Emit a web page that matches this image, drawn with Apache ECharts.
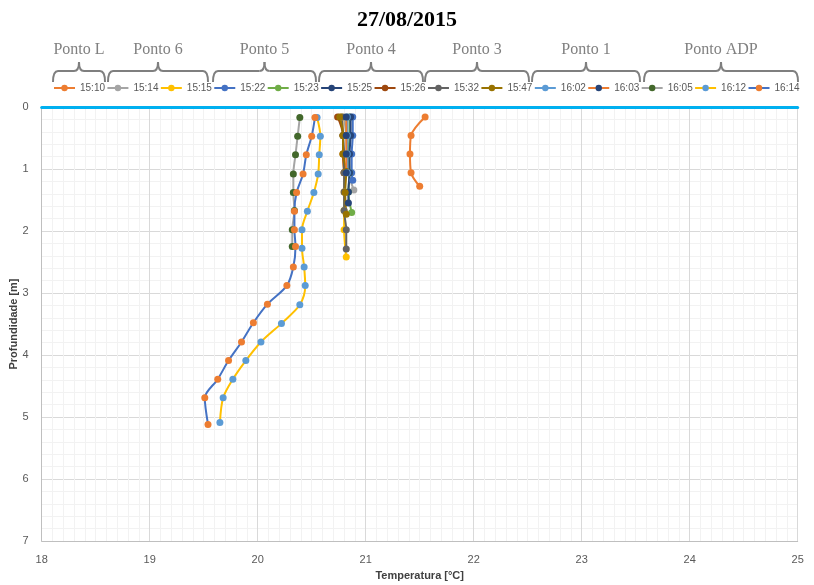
<!DOCTYPE html>
<html>
<head>
<meta charset="utf-8">
<script src="https://cdn.jsdelivr.net/npm/echarts@6/dist/echarts.min.js"></script>
<style>
html,body{margin:0;padding:0;background:#fff;}
#chart{width:814px;height:585px;}
</style>
</head>
<body>
<div id="chart"></div>
<script>
// ---- data ----
const chartTitle = '27/08/2015';
const xAxisTitle = 'Temperatura [°C]';
const yAxisTitle = 'Profundidade [m]';
const groupNames = ['Ponto L', 'Ponto 6', 'Ponto 5', 'Ponto 4', 'Ponto 3', 'Ponto 1', 'Ponto ADP'];
const seriesNames = ['15:10', '15:14', '15:15', '15:22', '15:23', '15:25', '15:26', '15:32', '15:47', '16:02', '16:03', '16:05', '16:12', '16:14'];

const temp1510 = [21.55, 21.42, 21.41, 21.42, 21.50];
const depth1510 = [0.16, 0.46, 0.76, 1.06, 1.28];
const temp1514 = [20.80, 20.82, 20.83, 20.84, 20.89];
const depth1514 = [0.16, 0.46, 0.76, 1.06, 1.34];
const temp1515 = [20.78, 20.79, 20.79, 20.80, 20.80, 20.80, 20.80, 20.82];
const depth1515 = [0.16, 0.46, 0.76, 1.06, 1.37, 1.67, 1.98, 2.42];
const temp1522 = [20.88, 20.88, 20.87, 20.87, 20.88];
const depth1522 = [0.16, 0.46, 0.76, 1.06, 1.18];
const temp1523 = [20.85, 20.85, 20.84, 20.85, 20.84, 20.87];
const depth1523 = [0.16, 0.46, 0.76, 1.06, 1.37, 1.70];
const temp1525 = [20.86, 20.86, 20.85, 20.85, 20.84, 20.84];
const depth1525 = [0.16, 0.46, 0.76, 1.06, 1.37, 1.55];
const temp1526 = [20.74, 20.79, 20.79, 20.80];
const depth1526 = [0.16, 0.46, 0.76, 1.06];
const temp1532 = [20.78, 20.79, 20.80, 20.80, 20.80, 20.80, 20.82, 20.82];
const depth1532 = [0.16, 0.46, 0.76, 1.06, 1.37, 1.67, 1.98, 2.29];
const temp1547 = [20.76, 20.79, 20.79, 20.82, 20.81, 20.82];
const depth1547 = [0.16, 0.46, 0.76, 1.04, 1.38, 1.73];
const temp1602 = [20.83, 20.83, 20.83, 20.83];
const depth1602 = [0.16, 0.46, 0.76, 1.06];
const temp1603 = [20.82, 20.82, 20.82, 20.82];
const depth1603 = [0.16, 0.46, 0.76, 1.06];
const temp1605 = [20.39, 20.37, 20.35, 20.33, 20.33, 20.34, 20.32, 20.32];
const depth1605 = [0.17, 0.47, 0.77, 1.08, 1.38, 1.67, 1.98, 2.25];
const temp1612 = [20.55, 20.58, 20.57, 20.56, 20.52, 20.46, 20.41, 20.41, 20.43, 20.44, 20.39, 20.22, 20.03, 19.89, 19.77, 19.68, 19.65];
const depth1612 = [0.17, 0.47, 0.77, 1.08, 1.38, 1.68, 1.98, 2.28, 2.58, 2.88, 3.19, 3.49, 3.79, 4.09, 4.39, 4.69, 5.09];
const temp1614 = [20.53, 20.50, 20.45, 20.42, 20.36, 20.34, 20.34, 20.35, 20.33, 20.27, 20.09, 19.96, 19.85, 19.73, 19.63, 19.51, 19.54];
const depth1614 = [0.17, 0.47, 0.77, 1.08, 1.38, 1.68, 1.98, 2.25, 2.58, 2.88, 3.18, 3.48, 3.79, 4.09, 4.39, 4.69, 5.12];

const temps = [temp1510, temp1514, temp1515, temp1522, temp1523, temp1525, temp1526, temp1532, temp1547, temp1602, temp1603, temp1605, temp1612, temp1614];
const depths = [depth1510, depth1514, depth1515, depth1522, depth1523, depth1525, depth1526, depth1532, depth1547, depth1602, depth1603, depth1605, depth1612, depth1614];

const xTicks = [18, 19, 20, 21, 22, 23, 24, 25];
const yTicks = [0, 1, 2, 3, 4, 5, 6, 7];

// ---- styles ----
const lineColors   = ['#ED7D31', '#A5A5A5', '#FFC000', '#4472C4', '#70AD47', '#264478', '#9E480E', '#636363', '#997300', '#5B9BD5', '#ED7D31', '#A5A5A5', '#FFC000', '#4472C4'];
const markerColors = ['#ED7D31', '#A5A5A5', '#FFC000', '#4472C4', '#70AD47', '#264478', '#9E480E', '#636363', '#997300', '#5B9BD5', '#264478', '#43682B', '#5B9BD5', '#ED7D31'];

const chart = echarts.init(document.getElementById('chart'), null, {renderer: 'canvas'});

const series = seriesNames.map((name, i) => ({
  name: name,
  type: 'line',
  xAxisIndex: 0,
  yAxisIndex: 0,
  data: temps[i].map((t, k) => [t, depths[i][k]]),
  symbol: 'circle',
  symbolSize: 7,
  smooth: 0.3,
  lineStyle: {color: lineColors[i], width: 2},
  itemStyle: {color: markerColors[i], borderWidth: 0},
  emphasis: {disabled: true},
  animation: false
}));

// brackets above legend groups
const bracketSpans = [[53, 105], [108, 208], [213, 316], [319, 423], [425, 529], [532, 640], [644, 798]];
const bTop = 71, bEnd = 82, bTip = 62, r = 5;
const braceStyle = {stroke: '#7F7F7F', lineWidth: 2, fill: null};
const graphics = [];
bracketSpans.forEach((s, i) => {
  const x1 = s[0], x2 = s[1], cx = (x1 + x2) / 2;
  graphics.push({type: 'bezierCurve', silent: true, shape: {x1: x1, y1: bEnd, cpx1: x1, cpy1: bTop, x2: x1 + r, y2: bTop}, style: braceStyle});
  graphics.push({type: 'line', silent: true, shape: {x1: x1 + r, y1: bTop, x2: cx - r, y2: bTop}, style: braceStyle});
  graphics.push({type: 'bezierCurve', silent: true, shape: {x1: cx - r, y1: bTop, cpx1: cx, cpy1: bTop, x2: cx, y2: bTip}, style: braceStyle});
  graphics.push({type: 'bezierCurve', silent: true, shape: {x1: cx, y1: bTip, cpx1: cx, cpy1: bTop, x2: cx + r, y2: bTop}, style: braceStyle});
  graphics.push({type: 'line', silent: true, shape: {x1: cx + r, y1: bTop, x2: x2 - r, y2: bTop}, style: braceStyle});
  graphics.push({type: 'bezierCurve', silent: true, shape: {x1: x2 - r, y1: bTop, cpx1: x2, cpy1: bTop, x2: x2, y2: bEnd}, style: braceStyle});
  graphics.push({
    type: 'text', x: cx, y: 50, silent: true,
    style: {text: groupNames[i], fill: '#808080', font: '16px "Liberation Serif"', textAlign: 'center', textVerticalAlign: 'middle'}
  });
});

const option = {
  backgroundColor: '#fff',
  animation: false,
  title: {
    text: chartTitle, left: 'center', top: 4,
    textStyle: {fontFamily: 'Liberation Serif', fontSize: 22, fontWeight: 'bold', color: '#000'}
  },
  legend: {
    data: seriesNames, left: 53, top: 83, padding: 0,
    itemWidth: 21, itemHeight: 8, itemGap: 1.4,
    textStyle: {fontFamily: 'Liberation Sans', fontSize: 10, color: '#595959'},
    selectedMode: false
  },
  grid: {left: 41.7, right: 16.3, top: 107, bottom: 44, containLabel: false, outerBoundsMode: 'none'},
  xAxis: [{
    type: 'value', position: 'bottom', min: xTicks[0], max: xTicks[xTicks.length - 1], interval: 1,
    name: xAxisTitle, nameLocation: 'middle', nameGap: 29, nameMoveOverlap: false,
    nameTextStyle: {fontFamily: 'Liberation Sans', fontSize: 11, fontWeight: 'bold', color: '#404040'},
    axisLine: {show: true, onZero: false, lineStyle: {color: '#BFBFBF', width: 1}},
    axisTick: {show: false},
    axisLabel: {fontFamily: 'Liberation Sans', fontSize: 11, color: '#595959', margin: 13},
    splitLine: {show: true, lineStyle: {color: '#D9D9D9', width: 1}},
    minorTick: {show: false, splitNumber: 10},
    minorSplitLine: {show: true, lineStyle: {color: '#F2F2F2', width: 1}}
  }, {
    type: 'value', position: 'top', min: xTicks[0], max: xTicks[xTicks.length - 1], interval: 1,
    axisLine: {show: true, onZero: false, lineStyle: {color: '#00B0F0', width: 3}},
    axisTick: {show: false}, axisLabel: {show: false}, splitLine: {show: false}
  }],
  yAxis: [{
    type: 'value', inverse: true, min: yTicks[0], max: yTicks[yTicks.length - 1], interval: 1,
    name: yAxisTitle, nameLocation: 'middle', nameGap: 22, nameRotate: 90, nameMoveOverlap: false,
    nameTextStyle: {fontFamily: 'Liberation Sans', fontSize: 11, fontWeight: 'bold', color: '#404040'},
    axisLine: {show: true, onZero: false, lineStyle: {color: '#BFBFBF', width: 1}},
    axisTick: {show: false},
    axisLabel: {fontFamily: 'Liberation Sans', fontSize: 11, color: '#595959', margin: 13},
    splitLine: {show: true, lineStyle: {color: '#D9D9D9', width: 1}},
    minorTick: {show: false, splitNumber: 5},
    minorSplitLine: {show: true, lineStyle: {color: '#F2F2F2', width: 1}}
  }],
  graphic: graphics,
  series: series
};
chart.setOption(option);
</script>
</body>
</html>
